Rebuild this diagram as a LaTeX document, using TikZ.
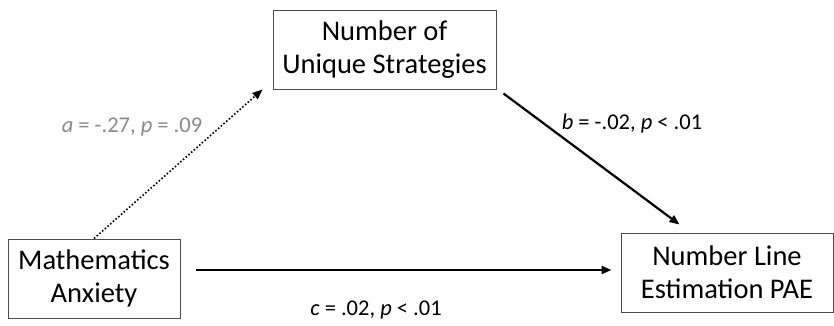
\documentclass[tikz,border=0pt]{standalone}
\usepackage{fontspec}
\setmainfont{Carlito}
\usetikzlibrary{arrows.meta}
\definecolor{labgray}{HTML}{8A8A8A}
\begin{document}
\begin{tikzpicture}[x=1pt,y=-1pt]

        \useasboundingbox (0,0) rectangle (834,325);

        \begin{scope}[every node/.style={draw=black!70,line width=1pt,align=center,
            inner sep=0pt,minimum height=79pt,font=\fontsize{28.5}{33}\selectfont}]
          \node[minimum width=223pt] (strat) at (384.5,49.5) {Number of\\Unique Strategies};
          \node[minimum width=172pt] (anx)   at (94,278.5)   {Mathematics\\Anxiety};
          \node[minimum width=212pt] (pae)   at (727,272.5)  {Number Line\\Estimation PAE};
        \end{scope}

        \begin{scope}[every node/.style={font=\fontsize{22.5}{26}\selectfont}]
          \node[text=labgray] (alab) at (132,127) {\textit{a} = -.27, \textit{p} = .09};
          \node (blab) at (632,123) {\textit{b} = -.02, \textit{p} < .01};
          \node (clab) at (376,310) {\textit{c} = .02, \textit{p} < .01};
        \end{scope}

        \begin{scope}[-{Triangle[length=10pt,width=8pt]}]
          \draw[line width=1.6pt,dotted] (anx.north) -- ([xshift=-10pt]strat.south west);
          \draw[line width=2.2pt] ([xshift=7pt,yshift=-4pt]strat.south east) -- ([xshift=59pt,yshift=8pt]pae.north west);
          \draw[line width=2.2pt] ([xshift=15pt]anx.east |- 0,270) -- ([xshift=-9pt]pae.west |- 0,270);
        \end{scope}

      \end{tikzpicture}
\end{document}
